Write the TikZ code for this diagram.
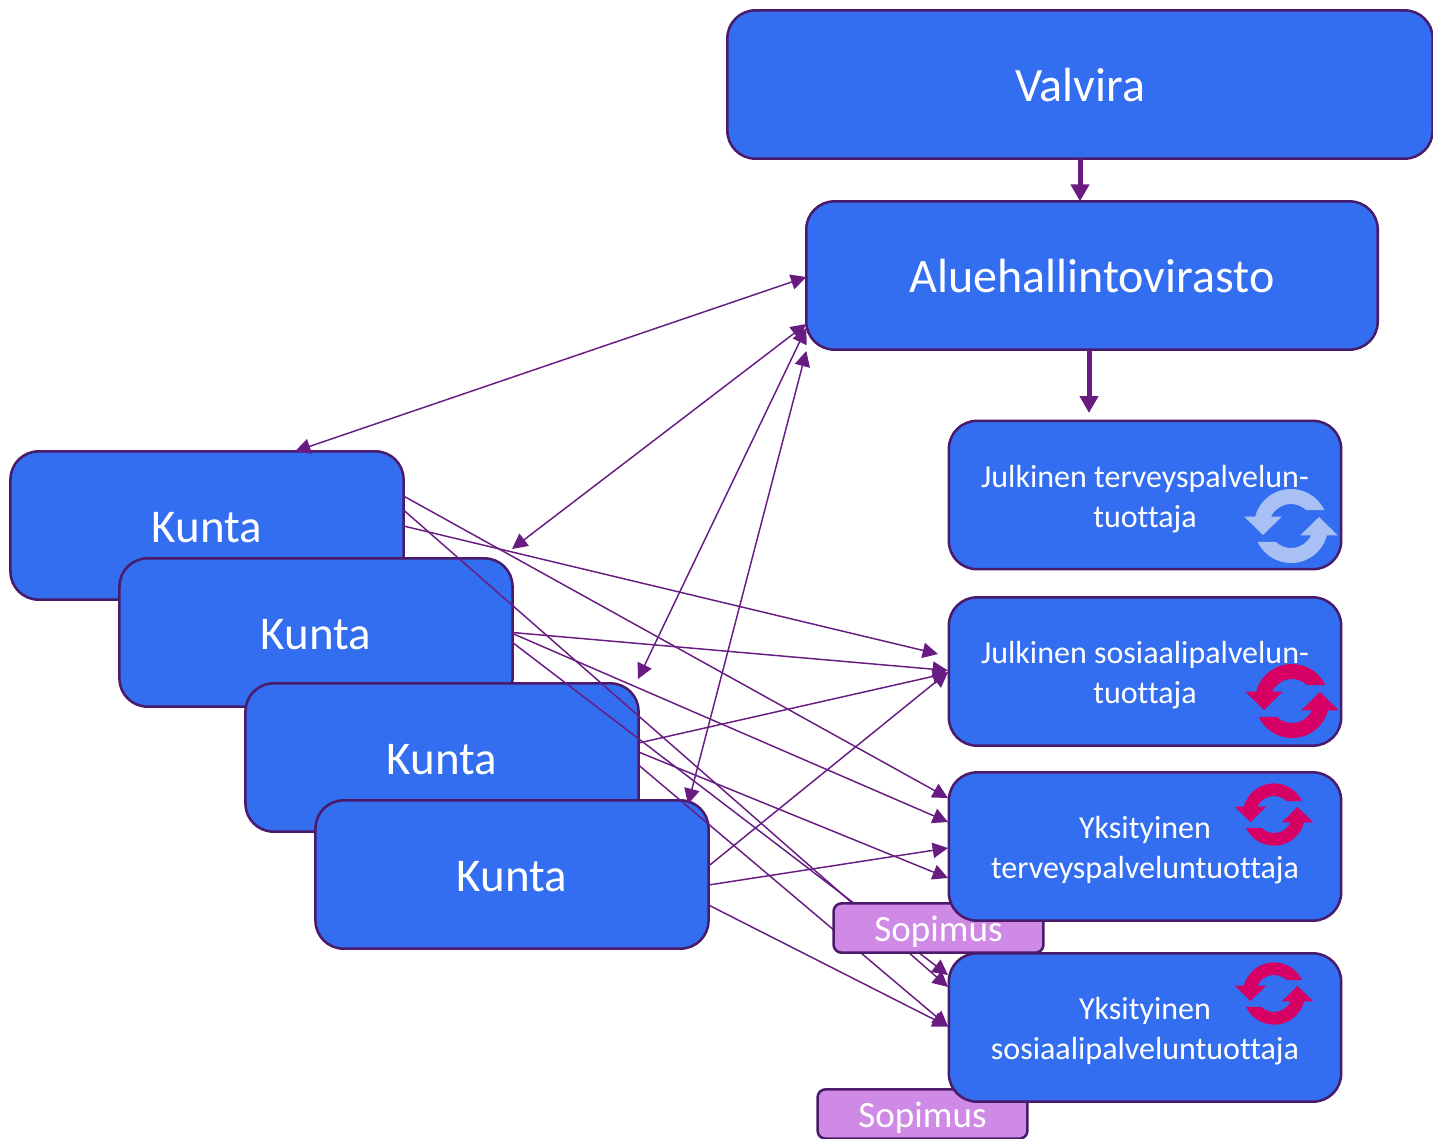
\documentclass[tikz,border=0pt]{standalone}
\usepackage{fontspec}
\setmainfont{Carlito}[Ligatures=NoCommon]
\usetikzlibrary{arrows.meta,calc}
\definecolor{boxblue}{HTML}{336EF0}
\definecolor{boxedge}{HTML}{4A1A6B}
\definecolor{linkpurple}{HTML}{681C82}
\definecolor{sopfill}{HTML}{CE8AE5}
\definecolor{lightcycle}{HTML}{A9C0F5}
\definecolor{pinkcycle}{HTML}{D60064}
\tikzset{
  x=0.75pt,y=-0.75pt,
  basebox/.style={draw=boxedge,line width=1.9pt,fill=boxblue,text=white,align=center,rounded corners=21pt,inner sep=0pt,outer sep=0pt,minimum height=111.2pt},
  bigtext/.style={text height=33pt,text depth=8pt},
  kuntabox/.style={basebox,bigtext,minimum width=294.8pt,font=\fontsize{35.2}{40}\selectfont},
  bigbox/.style={basebox,bigtext,font=\fontsize{36}{40}\selectfont},
  smallbox/.style={basebox,minimum width=294.2pt,font=\fontsize{24}{30}\selectfont},
  sopbox/.style={draw=boxedge,line width=1.9pt,fill=sopfill,text=white,rounded corners=6pt,inner sep=0pt,outer sep=0pt,minimum width=157.4pt,minimum height=37pt,text height=27pt,text depth=7pt,font=\fontsize{27.8}{30}\selectfont},
  thinlink/.style={draw=linkpurple,line width=1.1pt},
  onehead/.style={thinlink,-{Triangle[length=11.5pt,width=11.5pt]}},
  twohead/.style={thinlink,{Triangle[length=11.5pt,width=11.5pt]}-{Triangle[length=11.5pt,width=11.5pt]}},
  thicklink/.style={draw=linkpurple,line width=3.75pt,-{Triangle[length=12.75pt,width=13.5pt]}},
  pics/cycle/.style={code={
    \begin{scope}[x=0.75pt,y=0.75pt]
    \foreach \r in {0,180}{
      \fill[#1,rotate=\r] (33.3,16) arc[start angle=25.6,end angle=165.5,radius=37]
        -- (-46.7,9.3) -- (-28,-9) -- (-9.3,9.3) -- (-20,9.3)
        arc[start angle=155,end angle=46,radius=22] -- cycle;
    }
    \end{scope}
  }}
}
\newcommand\lnk[5][onehead]{\draw[#1] ($(#2)+(0,#3)$) -- ($(#4)+(0,#5)$);}
\begin{document}
\begin{tikzpicture}
\useasboundingbox (0,0) rectangle (1433,1138);
\begin{scope}
\clip (0,0) rectangle (1433,1138);
\node[kuntabox] (k1) at (207,525.5) {Kunta};
\node[kuntabox] (k2) at (316,632.5) {Kunta};
\node[kuntabox] (k3) at (442,757.5) {Kunta};
\node[kuntabox] (k4) at (512,874.5) {Kunta};
\node[bigbox,minimum width=529pt] (valvira) at (1080,84.5) {Valvira};
\node[bigbox,minimum width=428.6pt] (avi) at (1092,275.5) {Aluehallintovirasto};
% free ends
\coordinate (endjs) at (938,654);
\coordinate (endk2) at (512,549);
\coordinate (endk3) at (638,679);
\coordinate (endk4) at (688,804);
\coordinate (endjt) at (1089,413);
% connectors
\draw[thicklink] (valvira.south -| 1080,0) -- (avi.north -| 1080,0);
\draw[thicklink] (avi.south -| 1089,0) -- (endjt);
\draw[twohead] ($(k1.north)+(88,0)$) -- ($(avi.west)+(0,1.5)$);
\draw[twohead] (endk2) -- ($(avi.west)+(0,48.5)$);
\draw[twohead] (endk3) -- ($(avi.west)+(0,52.5)$);
\draw[twohead] (endk4) -- ($(avi.west)+(0,75.5)$);
\path (948,671.5) node[inner sep=0pt,minimum size=0pt] (jsw) {};
\path (948,846.5) node[inner sep=0pt,minimum size=0pt] (ytw) {};
\path (948,1027.5) node[inner sep=0pt,minimum size=0pt] (ysw) {};
\lnk{k1.east}{-29.5}{ytw}{-48.5}
\lnk{k1.east}{-15.5}{ysw}{-40.5}
\draw[onehead] ($(k1.east)+(0,0.5)$) -- (endjs);
\lnk{k2.east}{0}{jsw}{-1}
\lnk{k2.east}{1}{ytw}{-24.5}
\lnk{k2.east}{10}{ysw}{-52.5}
\lnk{k3.east}{-14.5}{jsw}{1.5}
\lnk{k3.east}{-5.5}{ytw}{31.5}
\lnk{k3.east}{7.5}{ysw}{-1}
\lnk{k4.east}{-8.5}{jsw}{0.5}
\lnk{k4.east}{10.5}{ytw}{1.5}
\lnk{k4.east}{30.5}{ysw}{-1}
% boxes above connectors
\node[sopbox] (sop1) at (938.5,928) {Sopimus};
\node[sopbox] (sop2) at (922.5,1114) {Sopimus};
\node[smallbox] (jt) at (1145,495) {\\[-7.5pt]Julkinen terveyspalvelun-\\tuottaja};
\node[smallbox] (js) at (1145,671.5) {\\[-7.5pt]Julkinen sosiaalipalvelun-\\tuottaja};
\node[smallbox] (yt) at (1145,846.5) {\\[-7.5pt]Yksityinen\\terveyspalveluntuottaja};
\node[smallbox] (ys) at (1145,1027.5) {\\[-7.5pt]Yksityinen\\sosiaalipalveluntuottaja};
\pic at (1291,526) {cycle=lightcycle};
\pic at (1292,701) {cycle=pinkcycle};
\pic[scale=0.84] at (1274,814.5) {cycle=pinkcycle};
\pic[scale=0.84] at (1274,993.5) {cycle=pinkcycle};
\end{scope}
\end{tikzpicture}
\end{document}
